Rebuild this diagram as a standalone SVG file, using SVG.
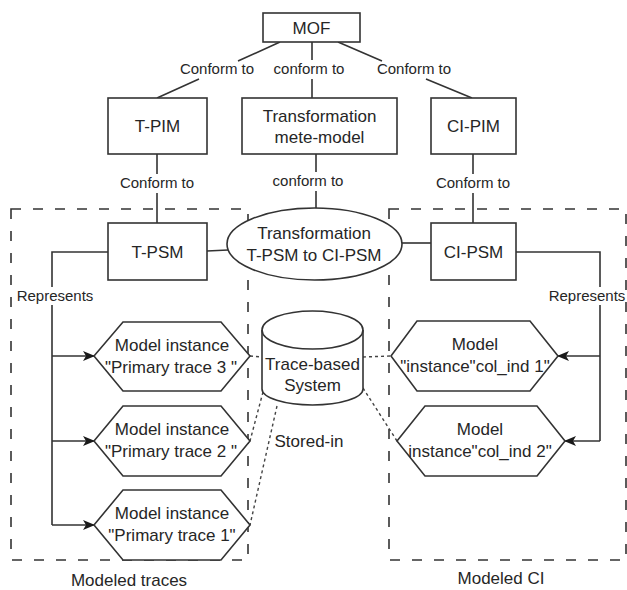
<svg xmlns="http://www.w3.org/2000/svg" width="627" height="590" viewBox="0 0 627 590">
  <defs>
    <style>
      text { font-family: "Liberation Sans", Arial, sans-serif; fill: #262626; text-anchor: middle; }
      .t17 { font-size: 17px; }
      .t15 { font-size: 15px; }
      .shape { fill: #ffffff; stroke: #333333; stroke-width: 1.6; }
      .line { fill: none; stroke: #333333; stroke-width: 1.6; }
      .dotted { fill: none; stroke: #444444; stroke-width: 1.4; stroke-dasharray: 3 3; }
      .group { fill: none; stroke: #333333; stroke-width: 1.6; stroke-dasharray: 10 12; }
    </style>
    <marker id="arrow" viewBox="0 0 12 10" refX="11" refY="5" markerWidth="12" markerHeight="10" markerUnits="userSpaceOnUse" orient="auto">
      <path d="M0,0 L12,5 L0,10 L3,5 Z" fill="#1a1a1a"/>
    </marker>
  </defs>

  <!-- dashed grouping frames -->
  <g id="frames">
    <rect class="group" x="11" y="209" width="237" height="351"/>
    <rect class="group" x="389" y="209" width="237" height="351"/>
  </g>

  <!-- connectors -->
  <g id="connectors">
    <!-- MOF to the three meta-models -->
    <path class="line" d="M280,42 L238,61 M199,79 L157,98"/>
    <path class="line" d="M312,42 V60 M312,79 V98"/>
    <path class="line" d="M338,42 L382,61 M426,79 L472,98"/>
    <!-- PIM level to PSM level -->
    <path class="line" d="M157,154 V174 M157,193 V223"/>
    <path class="line" d="M316,154 V172 M316,191 V208"/>
    <path class="line" d="M473,154 V174 M473,193 V223"/>
    <!-- PSMs to the transformation -->
    <path class="line" d="M207,251 L228,250"/>
    <path class="line" d="M402,243 L431,243"/>
    <!-- T-PSM represents trace instances -->
    <path class="line" d="M108,252 H52 V287 M52,305 V525"/>
    <path class="line" d="M52,356 H94" marker-end="url(#arrow)"/>
    <path class="line" d="M52,441 H94" marker-end="url(#arrow)"/>
    <path class="line" d="M52,525 H94" marker-end="url(#arrow)"/>
    <!-- CI-PSM represents CI instances -->
    <path class="line" d="M516,252 H600 V287 M600,305 V441"/>
    <path class="line" d="M600,356 H558" marker-end="url(#arrow)"/>
    <path class="line" d="M600,441 H565" marker-end="url(#arrow)"/>
    <!-- stored-in links -->
    <path class="dotted" d="M250,356 L262,357"/>
    <path class="dotted" d="M363,357 L391,356"/>
    <path class="dotted" d="M263,392 L250,441"/>
    <path class="dotted" d="M277,406 L250,525"/>
    <path class="dotted" d="M363,388 L397,441"/>
  </g>

  <!-- connector labels -->
  <g id="labels">
    <text class="t15" x="217" y="74">Conform to</text>
    <text class="t15" x="309" y="74">conform to</text>
    <text class="t15" x="414" y="74">Conform to</text>
    <text class="t15" x="157" y="188">Conform to</text>
    <text class="t15" x="308" y="186">conform to</text>
    <text class="t15" x="473" y="188">Conform to</text>
    <text class="t15" x="55" y="301">Represents</text>
    <text class="t15" x="587" y="301">Represents</text>
    <text class="t17" x="309" y="447">Stored-in</text>
    <text class="t17" x="129" y="586">Modeled traces</text>
    <text class="t17" x="501" y="584">Modeled CI</text>
  </g>

  <g id="mof">
    <rect class="shape" x="263" y="13" width="97" height="29"/>
    <text class="t17" x="311.5" y="33.5">MOF</text>
  </g>

  <g id="t-pim">
    <rect class="shape" x="108" y="98" width="99" height="56"/>
    <text class="t17" x="157.5" y="132">T-PIM</text>
  </g>

  <g id="transformation-metamodel">
    <rect class="shape" x="242" y="98" width="155" height="56"/>
    <text class="t17" x="319.5" y="121.5">Transformation</text>
    <text class="t17" x="319.5" y="142.5">mete-model</text>
  </g>

  <g id="ci-pim">
    <rect class="shape" x="431" y="98" width="85" height="56"/>
    <text class="t17" x="473.5" y="132">CI-PIM</text>
  </g>

  <g id="t-psm">
    <rect class="shape" x="108" y="223" width="99" height="57"/>
    <text class="t17" x="157.5" y="257.5">T-PSM</text>
  </g>

  <g id="transformation">
    <ellipse class="shape" cx="314.5" cy="244" rx="87.5" ry="36"/>
    <text class="t17" x="314" y="239">Transformation</text>
    <text class="t17" x="314" y="261">T-PSM to CI-PSM</text>
  </g>

  <g id="ci-psm">
    <rect class="shape" x="431" y="223" width="85" height="57"/>
    <text class="t17" x="473.5" y="257.5">CI-PSM</text>
  </g>

  <g id="trace-system">
    <path class="shape" d="M262,330 A50.5,19 0 0 1 363,330 L363,389 A50.5,16 0 0 1 262,389 Z"/>
    <path class="line" d="M262,330 A50.5,19 0 0 0 363,330"/>
    <text class="t17" x="312.5" y="370">Trace-based</text>
    <text class="t17" x="312.5" y="391">System</text>
  </g>

  <g id="primary-trace-3">
    <polygon class="shape" points="94,356 123,322 221,322 250,356 221,391 123,391"/>
    <text class="t17" x="172" y="351">Model instance</text>
    <text class="t17" x="171" y="373">"Primary trace 3 "</text>
  </g>

  <g id="primary-trace-2">
    <polygon class="shape" points="94,441 123,406 221,406 250,441 221,476 123,476"/>
    <text class="t17" x="172" y="435">Model instance</text>
    <text class="t17" x="171" y="457">"Primary trace 2 "</text>
  </g>

  <g id="primary-trace-1">
    <polygon class="shape" points="94,525 123,490 221,490 250,525 221,560 123,560"/>
    <text class="t17" x="172" y="519">Model instance</text>
    <text class="t17" x="172" y="541">"Primary trace 1"</text>
  </g>

  <g id="col-ind-1">
    <polygon class="shape" points="391,356 417,321 530,321 558,356 530,391 417,391"/>
    <text class="t17" x="475" y="350">Model</text>
    <text class="t17" x="475" y="372">"instance"col_ind 1"</text>
  </g>

  <g id="col-ind-2">
    <polygon class="shape" points="397,441 425,406 537,406 565,441 537,476 425,476"/>
    <text class="t17" x="480" y="435">Model</text>
    <text class="t17" x="480" y="457">instance"col_ind 2"</text>
  </g>
</svg>
